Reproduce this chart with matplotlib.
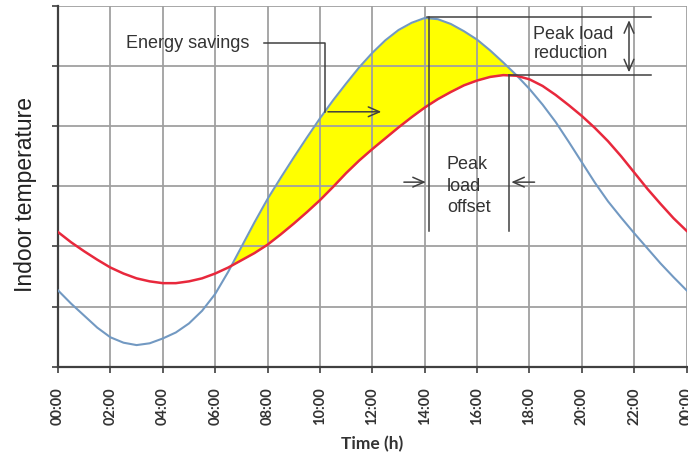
import matplotlib
matplotlib.use("Agg")
import matplotlib.pyplot as plt
import numpy as np

# half-hourly indoor temperature (relative units)
hours = [h / 2 for h in range(49)]
tick_labels = ["00:00", "02:00", "04:00", "06:00", "08:00", "10:00", "12:00",
               "14:00", "16:00", "18:00", "20:00", "22:00", "00:00"]
blue_temp = [1.27, 1.05, 0.85, 0.65, 0.49, 0.40, 0.36, 0.39, 0.47, 0.57,
             0.72, 0.93, 1.21, 1.58, 1.99, 2.40, 2.79, 3.14, 3.48, 3.81,
             4.13, 4.43, 4.71, 4.98, 5.22, 5.43, 5.60, 5.72, 5.80, 5.78,
             5.70, 5.58, 5.44, 5.26, 5.06, 4.85, 4.62, 4.36, 4.07, 3.74,
             3.40, 3.06, 2.75, 2.48, 2.22, 1.97, 1.72, 1.49, 1.27]
red_temp = [2.24, 2.07, 1.92, 1.78, 1.65, 1.55, 1.47, 1.42, 1.39, 1.39,
            1.42, 1.47, 1.55, 1.65, 1.77, 1.89, 2.03, 2.20, 2.38, 2.57,
            2.77, 2.99, 3.22, 3.43, 3.62, 3.80, 3.98, 4.15, 4.31, 4.45,
            4.57, 4.68, 4.76, 4.82, 4.85, 4.84, 4.78, 4.67, 4.52, 4.35,
            4.17, 3.97, 3.75, 3.50, 3.23, 2.96, 2.71, 2.47, 2.26]

x = np.array(hours)
blue = np.array(blue_temp)
red = np.array(red_temp)

fig = plt.figure(figsize=(6.88, 4.59), dpi=100)
ax = fig.add_axes([0.0843, 0.201, 0.9137, 0.786])

ax.fill_between(x, blue, red, where=blue >= red, interpolate=True,
                color="#ffff00", linewidth=0, zorder=1)
ax.plot(x, blue, color="#7299c2", lw=1.5, zorder=3)
ax.plot(x, red, color="#e8283c", lw=1.8, zorder=3)

ax.set_xlim(0, 24)
ax.set_ylim(0, 6)
ax.set_xticks(range(0, 25, 2))
ax.set_xticklabels(tick_labels, rotation=90, fontsize=10.5,
                   fontfamily="Lato", fontweight="bold", color="#333333")
ax.set_yticks(range(0, 7))
ax.set_yticklabels([])
ax.tick_params(direction="out", length=4, width=1.2, color="#404040", pad=11)
ax.set_axisbelow("line")
ax.grid(True, color="#a0a0a0", lw=1.3)
for s in ["top", "right"]:
    ax.spines[s].set_visible(False)
for s in ["left", "bottom"]:
    ax.spines[s].set_color("#404040")
    ax.spines[s].set_linewidth(1.6)

ax.set_xlabel("Time (h)", fontsize=12.5, fontfamily="Lato", fontweight="bold",
              color="#333333", labelpad=8)
ax.set_ylabel("Indoor temperature", fontsize=16.5, fontfamily="Liberation Sans",
              color="#222222")
ax.yaxis.set_label_coords(-0.034, 0.477)

ink = "#404040"
txt = dict(fontsize=13, fontfamily="Liberation Sans", color="#333333")

# energy savings
ax.text(2.6, 5.38, "Energy savings", va="center", ha="left", **txt)
ax.plot([7.85, 10.2, 10.2], [5.38, 5.38, 4.24], color=ink, lw=1.1, zorder=4)
ax.annotate("", xy=(12.45, 4.24), xytext=(10.2, 4.24),
            arrowprops=dict(arrowstyle="->,head_length=0.8,head_width=0.35",
                            color=ink, lw=1.1), zorder=4)

# peak load reduction
ax.plot([14.1, 22.65], [5.81, 5.81], color=ink, lw=1.1, zorder=4)
ax.plot([17.2, 22.65], [4.85, 4.85], color=ink, lw=1.1, zorder=4)
ax.annotate("", xy=(21.8, 5.81), xytext=(21.8, 4.85),
            arrowprops=dict(arrowstyle="<->,head_length=0.8,head_width=0.35",
                            color=ink, lw=1.1), zorder=4)
ax.text(18.15, 5.37, "Peak load\nreduction", va="center", ha="left",
        linespacing=1.2, **txt)

# peak load offset
ax.plot([14.15, 14.15], [5.81, 2.25], color=ink, lw=1.1, zorder=4)
ax.plot([17.2, 17.2], [4.85, 2.25], color=ink, lw=1.1, zorder=4)
ax.annotate("", xy=(14.15, 3.07), xytext=(13.1, 3.07),
            arrowprops=dict(arrowstyle="->,head_length=0.8,head_width=0.35",
                            color=ink, lw=1.1), zorder=4)
ax.annotate("", xy=(17.2, 3.07), xytext=(18.3, 3.07),
            arrowprops=dict(arrowstyle="->,head_length=0.8,head_width=0.35",
                            color=ink, lw=1.1), zorder=4)
ax.text(14.85, 3.0, "Peak\nload\noffset", va="center", ha="left",
        linespacing=1.35, **txt)

fig.savefig("out.png", dpi=100)
